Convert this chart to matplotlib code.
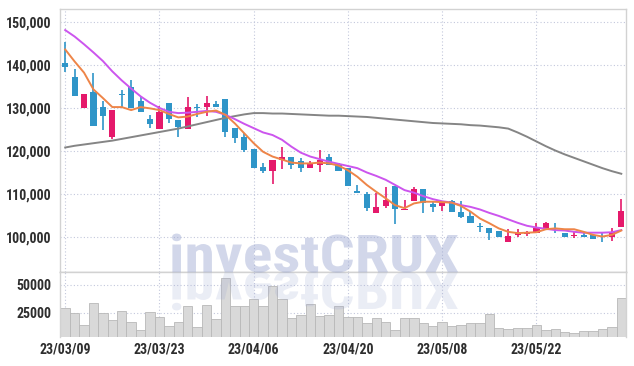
import numpy as np
import matplotlib
matplotlib.use('Agg')
import matplotlib.pyplot as plt
from matplotlib import font_manager
from matplotlib.textpath import TextPath
from matplotlib.patches import PathPatch
from matplotlib.font_manager import FontProperties
from matplotlib.transforms import Affine2D


dates = ['23/03/09', '23/03/10', '23/03/13', '23/03/14', '23/03/15', '23/03/16', '23/03/17', '23/03/20', '23/03/21', '23/03/22',
	'23/03/23', '23/03/24', '23/03/27', '23/03/28', '23/03/29', '23/03/30', '23/03/31', '23/04/03', '23/04/04', '23/04/05',
	'23/04/06', '23/04/07', '23/04/10', '23/04/11', '23/04/12', '23/04/13', '23/04/14', '23/04/17', '23/04/18', '23/04/19',
	'23/04/20', '23/04/21', '23/04/24', '23/04/25', '23/04/26', '23/04/27', '23/04/28', '23/05/02', '23/05/03', '23/05/04',
	'23/05/08', '23/05/09', '23/05/10', '23/05/11', '23/05/12', '23/05/15', '23/05/16', '23/05/17', '23/05/18', '23/05/19',
	'23/05/22', '23/05/23', '23/05/24', '23/05/25', '23/05/26', '23/05/30', '23/05/31', '23/06/01', '23/06/02', '23/06/05']

opens = [140500, 137300, 130100, 133600, 130200, 123200, 133200, 134800, 131600, 127400,
	125000, 131100, 127200, 125100, 130300, 130200, 130900, 132100, 125300, 123300,
	120500, 116300, 115300, 117900, 118500, 117700, 116000, 116700, 118500, 116900,
	116000, 110800, 110000, 105600, 107300, 111900, 106300, 108400, 111200, 107700,
	107200, 108400, 105700, 104900, 102500, 102000, 101400, 98900, 100500, 100600,
	100900, 102000, 101500, 101000, 100200, 100500, 100500, 100200, 99900, 102400]
highs = [145400, 139000, 133300, 138200, 131500, 129500, 134200, 136500, 132600, 128400,
	130500, 131100, 127200, 132500, 130900, 132800, 131600, 132100, 125300, 124100,
	120500, 117300, 118000, 120900, 118500, 118300, 117700, 120200, 119200, 117300,
	116000, 112100, 110400, 110200, 111700, 111900, 108500, 111600, 111200, 108200,
	108400, 108700, 108400, 106000, 103200, 102000, 101400, 101900, 101900, 101300,
	103200, 103500, 103200, 101000, 101100, 101000, 100500, 100900, 102200, 108900]
lows = [138300, 132800, 130100, 125900, 124900, 122800, 130300, 130100, 129100, 125400,
	125000, 126600, 123200, 125100, 128000, 128100, 130200, 123300, 121900, 119800,
	116100, 114800, 112300, 115700, 115700, 115000, 116000, 115200, 116700, 115400,
	111900, 110300, 106100, 105600, 106700, 103000, 106200, 108400, 105600, 105900,
	106100, 105900, 104300, 103200, 101200, 99300, 99900, 98900, 100100, 100200,
	100900, 102000, 100900, 100100, 99700, 100100, 99600, 98800, 99100, 102400]
closes = [139600, 132800, 133300, 125900, 128100, 129500, 132900, 130100, 129100, 126300,
	129100, 127400, 125600, 130200, 130000, 131100, 130200, 124300, 123100, 120200,
	116100, 115400, 118000, 118500, 116700, 116000, 116900, 118000, 116700, 115400,
	111900, 110300, 106700, 107000, 108700, 106400, 106500, 111100, 107800, 107000,
	107800, 105900, 104700, 103200, 102300, 101000, 99900, 100300, 100900, 101000,
	102200, 103200, 101300, 100100, 100400, 100100, 99600, 100000, 101200, 106000]
volumes = [28900, 24400, 13800, 33400, 24400, 18300, 26700, 16200, 9300, 25800,
	20800, 12900, 16800, 31000, 11700, 31900, 19000, 56000, 31200, 31200,
	37000, 31000, 49000, 37000, 19800, 22800, 32500, 21900, 22800, 31000,
	20800, 21300, 15300, 20400, 16800, 9300, 19800, 19800, 15300, 12900,
	16200, 12900, 13800, 15300, 15300, 23500, 10800, 9900, 10800, 10800,
	13500, 9300, 9900, 7200, 6300, 8100, 8100, 10200, 11700, 37900]

# moving averages as drawn on the chart (5 / 20 / long)
ma_short = [143600, 140800, 138200, 134300, 132300, 130200, 130200, 129500, 130200, 129900,
	129500, 128600, 127800, 128000, 128600, 129100, 129400, 128400, 126400, 124100,
	121800, 119800, 118700, 118000, 117300, 117100, 117100, 117300, 117100, 116600,
	115500, 114000, 112100, 110500, 109000, 107400, 106700, 107800, 108200, 108200,
	108100, 108000, 107200, 105900, 104300, 103200, 102000, 101200, 100900, 101000,
	101100, 101800, 102000, 101800, 101800, 101200, 100500, 100100, 100500, 101500]
ma_mid = [148100, 146600, 144800, 142900, 140900, 138500, 136400, 134500, 132700, 131200,
	130000, 129100, 128800, 128900, 129100, 129300, 129100, 128400, 127400, 126300,
	125300, 124300, 123700, 122600, 121000, 119600, 118700, 118100, 117500, 117000,
	116500, 116000, 115000, 114200, 113300, 112100, 110900, 110300, 109500, 108800,
	108300, 108000, 107400, 107000, 106400, 105600, 104900, 104100, 103300, 102600,
	102200, 101900, 101600, 101500, 101200, 101000, 101000, 101000, 101100, 101600]
ma_long = [120800, 121200, 121500, 121800, 122100, 122400, 122800, 123200, 123600, 124000,
	124400, 124800, 125200, 125700, 126200, 126700, 127200, 127700, 128100, 128500,
	128800, 128800, 128700, 128700, 128600, 128500, 128400, 128300, 128200, 128200,
	128100, 128000, 127900, 127700, 127500, 127300, 127100, 126900, 126700, 126500,
	126400, 126300, 126200, 126000, 125900, 125700, 125500, 125200, 124300, 123300,
	122200, 121100, 120100, 119200, 118400, 117600, 116800, 116000, 115300, 114700]

price_ticks = [100000, 110000, 120000, 130000, 140000, 150000]
volume_ticks = [25000, 50000]

RED = '#e5196b'
BLUE = '#2f95c8'
W, H = 634, 366


def pick_font():
	# a narrow face if there is one, the tick labels are condensed
	for name in ['Liberation Sans Narrow', 'DejaVu Sans Condensed', 'Roboto Condensed', 'Roboto', 'DejaVu Sans']:
		try:
			font_manager.findfont(FontProperties(family=name, weight='bold'), fallback_to_default=False)
			return name
		except ValueError:
			pass
	return 'DejaVu Sans'


def main():
	font = pick_font()
	plt.rcParams['font.family'] = [font, 'DejaVu Sans']

	# size so that "150,000" is about 44 px wide
	w1 = TextPath((0, 0), '150,000', size=1, prop=FontProperties(family=font, weight='bold')).get_extents().width
	fsize = 44 / (w1 * 100 / 72)

	fig = plt.figure(figsize=(W / 100, H / 100), dpi=100)

	ax = fig.add_axes([60 / W, 1 - 272 / H, 566 / W, 263 / H])
	axv = fig.add_axes([60 / W, 1 - 337 / H, 566 / W, 65 / H], sharex=ax)

	x = np.arange(len(dates))
	o = np.array(opens)
	c = np.array(closes)
	colors = np.where(c >= o, RED, BLUE)

	# candles
	ax.vlines(x, lows, highs, colors=colors, linewidth=1.2, zorder=2)
	ax.bar(x, np.maximum(np.abs(c - o), 150), bottom=np.minimum(o, c), width=0.65, color=colors, zorder=3)

	ax.plot(x, ma_long, color='#858585', linewidth=1.4, zorder=4)
	ax.plot(x, ma_mid, color='#cc55ee', linewidth=1.4, zorder=4)
	ax.plot(x, ma_short, color='#ee8548', linewidth=1.4, zorder=4)

	# volume
	axv.bar(x, volumes, width=1.0, color='#d9d9d9', edgecolor='#b8b8b8', linewidth=0.6, zorder=2)

	ax.set_xlim(-0.55, len(dates) - 0.5)
	ax.set_ylim(91860, 153000)
	axv.set_ylim(3000, 61700)

	ax.set_yticks(price_ticks)
	ax.set_yticklabels(['{:,}'.format(v) for v in price_ticks])
	axv.set_yticks(volume_ticks)
	axv.set_yticklabels([str(v) for v in volume_ticks])
	axv.set_xticks(x[::10])
	axv.set_xticklabels(dates[::10])
	plt.setp(ax.get_xticklabels(), visible=False)

	for a in (ax, axv):
		a.grid(True, linestyle=(0, (1, 2)), color='#c3c8dc', linewidth=0.8, zorder=0)
		a.tick_params(length=0, labelsize=fsize, labelcolor='#2e2e2e', pad=6)
		for lab in a.get_xticklabels() + a.get_yticklabels():
			lab.set_fontweight('bold')
		for s in a.spines.values():
			s.set_color('#d2d2d2')
			s.set_linewidth(1)
	ax.spines['bottom'].set_color('#bdbdbd')
	axv.spines['bottom'].set_visible(False)
	axv.tick_params(axis='x', pad=4)

	# watermark with its reflection
	prop = FontProperties(family=[font, 'DejaVu Sans'], weight='heavy')
	tp = TextPath((0, 0), 'investCRUX', size=100, prop=prop)
	ext = tp.get_extents()
	cap = TextPath((0, 0), 'X', size=100, prop=prop).get_extents().height
	sx = 286 / ext.width
	sy = 37 / cap
	base = H - 272
	tr = Affine2D().translate(-ext.x0, 0).scale(sx, sy).translate(172, base)
	fig.patches.append(PathPatch(tr.transform_path(tp), facecolor='#9aa6d0', edgecolor='none', alpha=0.44, zorder=5, figure=fig))
	tr2 = Affine2D().translate(-ext.x0, 0).scale(sx, -sy).translate(172, base)
	fig.patches.append(PathPatch(tr2.transform_path(tp), facecolor='#9aa6d0', edgecolor='none', alpha=0.2, zorder=5, figure=fig))

	fig.savefig('out.png', dpi=100)


if __name__ == '__main__':
	main()
